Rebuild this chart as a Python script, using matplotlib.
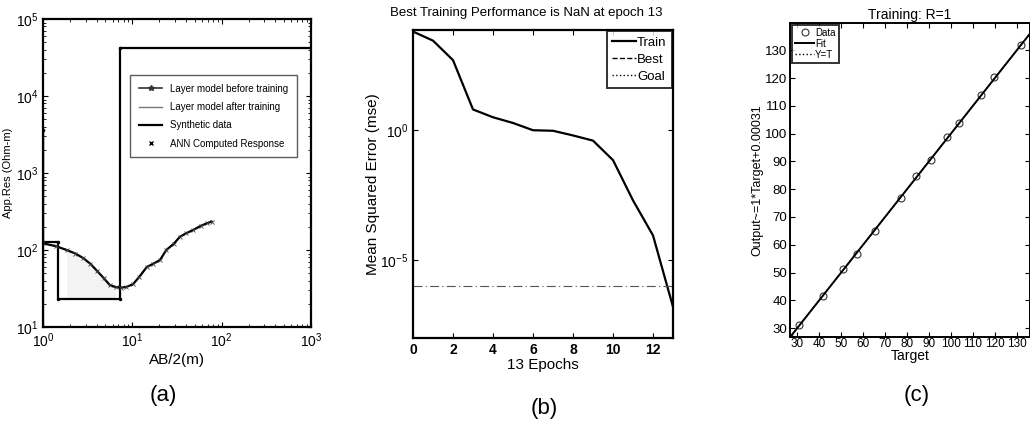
import matplotlib.pyplot as plt
import numpy as np

# (a) sounding curve
ab2 = [1.0, 1.4, 1.84, 2.3, 2.8, 3.4, 4.0, 4.8, 5.6, 6.5, 7.4, 8.5, 10.2, 12.0, 14.5, 17.0, 20.4, 24.0, 29.0, 34.0, 40.0, 48.0, 58.0, 68.0, 77.0]
app_res = [122, 112, 100, 90, 79, 66, 54, 43, 35, 33, 32.5, 33, 36, 45, 60, 66, 74, 100, 120, 148, 165, 182, 205, 222, 234]
layer_x = [1.0, 1.0, 1.48, 1.48, 7.3, 7.3, 1000]
layer_y = [3600, 128, 128, 23, 23, 42000, 42000]

# (b) training performance
epochs = list(range(14))
mse_log = [3.80, 3.45, 2.70, 0.80, 0.50, 0.28, 0.00, -0.02, -0.20, -0.40, -1.15, -2.70, -4.05, -6.80]
goal = 1e-6

# (c) regression
target = [26.7, 30.8, 41.8, 50.8, 57.0, 65.4, 77.1, 84.0, 90.9, 98.0, 103.7, 113.9, 119.5, 131.7]
output = [26.4, 31.2, 41.5, 51.4, 56.5, 64.9, 77.0, 84.6, 90.4, 98.8, 103.8, 113.8, 120.4, 131.8]

plt.rcParams['font.family'] = ['Liberation Sans', 'DejaVu Sans']

fig = plt.figure(figsize=(10.3, 4.23), dpi=100)
W, H = 1030, 423

def box(l, t, r, b):
    return [l / W, 1 - b / H, (r - l) / W, (b - t) / H]

# ---- (a)
ax1 = fig.add_axes(box(43, 19, 311, 327))
ax1.set_xscale('log')
ax1.set_yscale('log')
xs = np.array(ab2)
ys = np.array(app_res)
m = (xs >= 1.48) & (xs <= 7.3)
ax1.fill_between(xs[m], 23, ys[m], color='#f3f3f3', lw=0)
ax1.plot(layer_x, layer_y, color='k', lw=1.6, marker='.', ms=3)
ax1.plot([1.0, 1.0], [3600, 10], color='k', lw=1.6)
ax1.plot(ab2, app_res, color='k', lw=1.6)
ax1.plot(ab2, app_res, 'x', color='#444444', ms=3, mew=0.6)
ax1.set_xlim(1, 1000)
ax1.set_ylim(10, 1e5)
h1, = ax1.plot([], [], color='#333333', lw=1.2, marker='*', ms=4)
h2, = ax1.plot([], [], color='#777777', lw=1.0)
h3, = ax1.plot([], [], color='k', lw=1.6)
h4, = ax1.plot([], [], 'x', color='k', ms=3)
leg = ax1.legend([h1, h2, h3, h4],
                 ['Layer model before training', 'Layer model after training',
                  'Synthetic data', 'ANN Computed Response'],
                 loc='upper left', bbox_to_anchor=(0.325, 0.818), fontsize=7.0,
                 fancybox=False, edgecolor='#333333', borderpad=0.9, labelspacing=0.85,
                 handlelength=2.4, borderaxespad=0)
leg.get_frame().set_linewidth(1.0)
ax1.tick_params(which='both', direction='in', top=True, right=True, labelsize=10)
ax1.set_xlabel('AB/2(m)', fontsize=11, labelpad=2)
ax1.set_ylabel('App.Res (Ohm-m)', fontsize=8, labelpad=2)
for s in ax1.spines.values():
    s.set_linewidth(1.6)
fig.text(163 / W, 1 - 395 / H, '(a)', fontsize=16, ha='center', va='center')

# ---- (b)
ax2 = fig.add_axes(box(413, 30, 673, 338))
ax2.set_yscale('log')
mse = [10 ** v for v in mse_log]
ax2.plot(epochs, mse, color='k', lw=1.6, label='Train')
ax2.plot([], [], color='k', ls='--', lw=1.0, label='Best')
ax2.axhline(goal, color='#555555', ls=(0, (8, 3, 1, 3)), lw=0.8)
ax2.plot([], [], color='k', ls=':', lw=1.0, label='Goal')
ax2.set_xlim(0, 13)
ax2.set_ylim(1e-8, 10 ** 3.86)
ax2.set_yticks([1e-5, 1])
ax2.yaxis.set_minor_locator(plt.NullLocator())
ax2.set_xticks(range(0, 13, 2))
ax2.tick_params(direction='in', top=True, right=True, labelsize=10)
for lab in ax2.get_xticklabels():
    lab.set_fontweight('bold')
ax2.set_xlabel('13 Epochs', fontsize=11, labelpad=1)
ax2.set_ylabel('Mean Squared Error (mse)', fontsize=11, labelpad=0)
fig.text(526 / W, 1 - 13 / H, 'Best Training Performance is NaN at epoch 13',
         fontsize=9.5, ha='center', va='center')
leg2 = ax2.legend(loc='upper right', fancybox=False, edgecolor='k',
                  handlelength=1.8, handletextpad=0.1, borderpad=0.4, labelspacing=0.35,
                  borderaxespad=0.1, prop={'size': 9.5})
leg2.get_frame().set_linewidth(1.4)
for s in ax2.spines.values():
    s.set_linewidth(1.6)
fig.text(544 / W, 1 - 408 / H, '(b)', fontsize=16, ha='center', va='center')

# ---- (c)
ax3 = fig.add_axes(box(790, 23, 1030, 337))
lim = np.array([26.8, 140])
ax3.plot(lim, lim, color='k', ls=':', lw=1.0, label='Y=T')
ax3.plot(target, output, 'o', mfc='none', mec='#333333', ms=5, mew=0.8, label='Data')
ax3.plot(lim, lim * 1.0 + 0.00031, color='k', lw=1.4, label='Fit')
ax3.set_xlim(26.7, 136)
ax3.set_ylim(26.8, 139.8)
ax3.set_xticks(range(30, 131, 10))
ax3.set_yticks(range(30, 131, 10))
ax3.tick_params(direction='in', top=True, right=True, labelsize=9.5, pad=2)
ax3.tick_params(axis='x', labelsize=8.5, pad=1)
ax3.set_xlabel('Target', fontsize=10, labelpad=-1)
ax3.set_ylabel('Output~=1*Target+0.00031', fontsize=9, labelpad=1)
ax3.set_title('Training: R=1', fontsize=10, pad=3)
hs, ls = ax3.get_legend_handles_labels()
leg3 = ax3.legend([hs[1], hs[2], hs[0]], [ls[1], ls[2], ls[0]], loc='upper left',
                  fancybox=False, edgecolor='k', handlelength=2.0, handletextpad=0.1,
                  borderpad=0.3, labelspacing=0.1, borderaxespad=0.2,
                  prop={'size': 7})
leg3.get_frame().set_linewidth(1.4)
for s in ax3.spines.values():
    s.set_linewidth(1.4)
fig.text(917 / W, 1 - 395 / H, '(c)', fontsize=16, ha='center', va='center')

fig.savefig('out.png', dpi=100)
